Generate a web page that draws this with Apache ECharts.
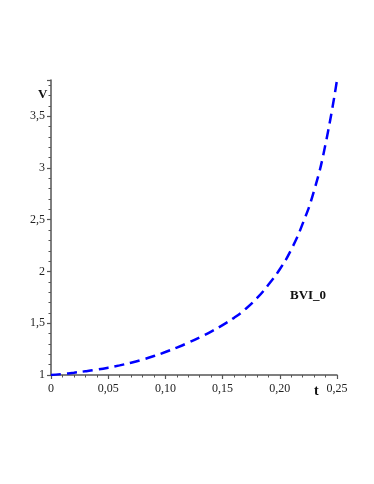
<!DOCTYPE html>
<html lang="en">

<head>
    <meta charset="UTF-8">
    <title>BVI_0</title>
    <script src="https://cdn.jsdelivr.net/npm/echarts@6/dist/echarts.min.js"></script>
    <style>
        body {
            margin: 0;
            padding: 0;
            background: #fff;
        }
    </style>
</head>

<body>
    <div id="main" style="width: 374px;height: 484px;"></div>
    <script>
        // values, one every 0.01 of t
        var tValues = [0, 0.01, 0.02, 0.03, 0.04, 0.05, 0.06, 0.07, 0.08, 0.09, 0.10, 0.11, 0.12,
            0.13, 0.14, 0.15, 0.16, 0.17, 0.18, 0.19, 0.20, 0.21, 0.22, 0.23, 0.24, 0.25];
        var vValues = [1.00, 1.01, 1.022, 1.036, 1.052, 1.071, 1.093, 1.119, 1.149, 1.183, 1.222, 1.265, 1.312,
            1.363, 1.419, 1.482, 1.552, 1.637, 1.742, 1.872, 2.022, 2.212, 2.462, 2.782, 3.232, 3.85];
        var seriesName = "BVI_0";
        var xName = "t";
        var yName = "V";

        var points = [];
        tValues.forEach((t, i) => {
            points.push([t, vValues[i]]);
        });

        var serif = "Liberation Serif";
        var axisColor = "#555";
        var chart = echarts.init(document.getElementById("main"));

        function comma(v, digits) {
            var s = digits ? v.toFixed(digits) : String(Math.round(v * 100) / 100);
            if (Math.abs(v) < 1e-9) s = "0";
            return s.replace(".", ",");
        }

        var option = {
            animation: false,
            grid: { left: 51, right: 37, top: 80, bottom: 109, containLabel: false },
            xAxis: {
                type: "value",
                min: 0,
                max: 0.25,
                interval: 0.05,
                axisLine: { lineStyle: { color: axisColor, width: 1.5 } },
                axisTick: { show: true, length: 4, inside: false, lineStyle: { color: axisColor, width: 1.2 } },
                minorTick: { show: true, splitNumber: 5, length: 2.5, lineStyle: { color: axisColor, width: 1 } },
                splitLine: { show: false },
                axisLabel: {
                    margin: 8,
                    fontFamily: serif,
                    fontSize: 12,
                    color: "#222",
                    formatter: v => comma(v, 2)
                }
            },
            yAxis: {
                type: "value",
                min: 1,
                max: 3.85,
                interval: 0.5,
                axisLine: { lineStyle: { color: axisColor, width: 1.5 } },
                axisTick: { show: true, length: 4, lineStyle: { color: axisColor, width: 1.2 } },
                minorTick: { show: true, splitNumber: 5, length: 2.5, lineStyle: { color: axisColor, width: 1 } },
                splitLine: { show: false },
                axisLabel: {
                    margin: 6,
                    fontFamily: serif,
                    fontSize: 12,
                    color: "#222",
                    showMaxLabel: false,
                    formatter: v => comma(v)
                }
            },
            graphic: [
                {
                    type: "text", left: 38, top: 88,
                    style: { text: yName, font: "bold 13px " + serif, fill: "#111" }
                },
                {
                    type: "text", left: 314, top: 384,
                    style: { text: xName, font: "bold 14px " + serif, fill: "#111" }
                },
                {
                    type: "text", left: 290, top: 289,
                    style: { text: seriesName, font: "bold 13px " + serif, fill: "#111" }
                }
            ],
            series: [
                {
                    name: seriesName,
                    type: "line",
                    data: points,
                    smooth: true,
                    showSymbol: false,
                    lineStyle: { color: "#0000ff", width: 2.5, type: [10, 6] }
                }
            ]
        };
        chart.setOption(option);
    </script>
</body>

</html>
